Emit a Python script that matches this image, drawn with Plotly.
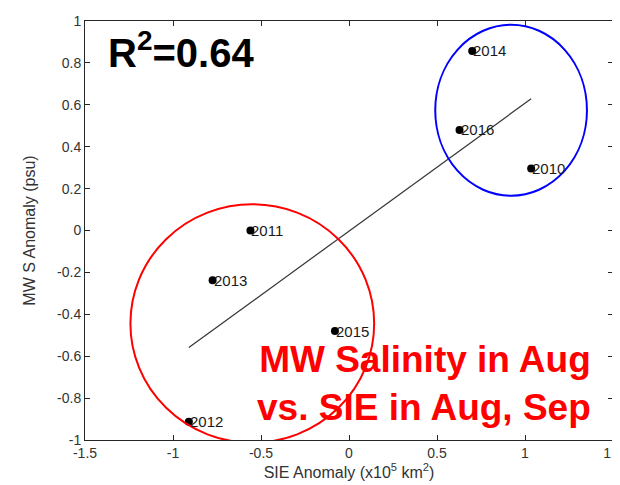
import numpy as np
import plotly.graph_objects as go

years = ["2010", "2011", "2012", "2013", "2014", "2015", "2016"]
sie_anom = [1.035, -0.56, -0.91, -0.775, 0.70, -0.08, 0.628]
sal_anom = [0.296, 0.0, -0.913, -0.238, 0.857, -0.48, 0.48]

x_ticks = [-1.5, -1, -0.5, 0, 0.5, 1, 1.5]
y_ticks = [-1, -0.8, -0.6, -0.4, -0.2, 0, 0.2, 0.4, 0.6, 0.8, 1]

# highlighted groups (ellipse extents in data units: x0, x1, y0, y1)
blue_group = [0.49, 1.352, 0.166, 0.982]
red_group = [-1.242, 0.143, -1.013, 0.125]

FONT = "Liberation Sans, Arial, Helvetica, sans-serif"

xa = np.array(sie_anom)
ya = np.array(sal_anom)
slope, icpt = np.polyfit(xa, ya, 1)
xfit = np.array([xa.min(), xa.max()])
yfit = slope * xfit + icpt
r2 = np.corrcoef(xa, ya)[0, 1] ** 2

fig = go.Figure()
fig.add_trace(go.Scatter(x=xfit, y=yfit, mode="lines",
                         line=dict(color="#333333", width=1.2), showlegend=False))
fig.add_trace(go.Scatter(x=sie_anom, y=sal_anom, mode="markers",
                         marker=dict(color="black", size=8), showlegend=False))
for xv, yv, lab in zip(sie_anom, sal_anom, years):
    fig.add_annotation(x=xv, y=yv, xref="x", yref="y", text=lab, showarrow=False,
                       xanchor="left", yanchor="middle", xshift=-1,
                       font=dict(family=FONT, size=15, color="#1a1a1a"))

fig.add_shape(type="circle", xref="x", yref="y",
              x0=blue_group[0], x1=blue_group[1], y0=blue_group[2], y1=blue_group[3],
              line=dict(color="#0000ff", width=2))
fig.add_shape(type="circle", xref="x", yref="y",
              x0=red_group[0], x1=red_group[1], y0=red_group[2], y1=red_group[3],
              line=dict(color="#ff0000", width=2))

fig.add_annotation(xref="paper", yref="paper", x=0.04, y=0.93,
                   xanchor="left", yanchor="middle", showarrow=False,
                   text="<b>R<sup>2</sup>=%.2f</b>" % r2,
                   font=dict(family=FONT, size=40, color="black"))
fig.add_annotation(xref="paper", yref="paper", x=0.962, y=0.135,
                   xanchor="right", yanchor="middle", showarrow=False, align="right",
                   text="<b>MW Salinity in Aug<br>vs. SIE in Aug, Sep</b>",
                   font=dict(family=FONT, size=37, color="#ff0000"))

axis_common = dict(showgrid=False, zeroline=False, showline=True, linecolor="#262626",
                   linewidth=1, mirror="allticks", ticks="inside", ticklen=5,
                   tickcolor="#262626", automargin=False, ticklabeloverflow="allow",
                   tickfont=dict(family=FONT, size=14, color="#333333"))
fig.update_xaxes(range=[-1.5, 1.5], tickvals=x_ticks,
                 ticktext=[("%g" % v) for v in x_ticks],
                 title=dict(text="SIE Anomaly (x10<sup>5</sup> km<sup>2</sup>)",
                            font=dict(family=FONT, size=16, color="#333333"), standoff=4),
                 **axis_common)
fig.update_yaxes(range=[-1, 1], tickvals=y_ticks,
                 ticktext=[("%g" % v) for v in y_ticks],
                 title=dict(text="MW S Anomaly (psu)",
                            font=dict(family=FONT, size=16, color="#333333"), standoff=17),
                 **axis_common)

fig.update_layout(width=620, height=485, margin=dict(l=77, r=15, t=13, b=53),
                  plot_bgcolor="white", paper_bgcolor="white")
fig.write_html("out.html")
